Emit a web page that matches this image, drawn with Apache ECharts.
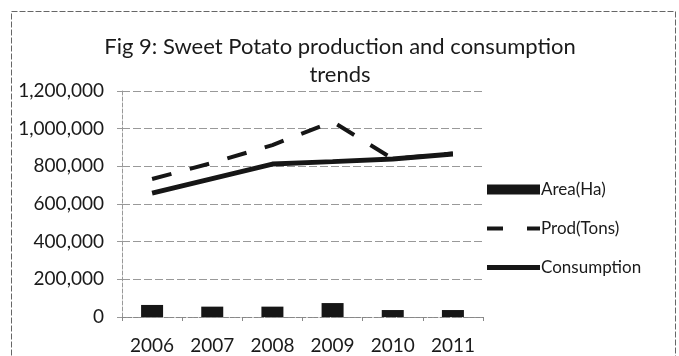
<!DOCTYPE html>
<html>
<head>
<meta charset="utf-8">
<script src="https://cdn.jsdelivr.net/npm/echarts@6/dist/echarts.min.js"></script>
<style>
  html, body { margin: 0; padding: 0; background: #fff; }
  #chart { width: 679px; height: 356px; }
</style>
</head>
<body>
<div id="chart"></div>
<script>
// Sweet potato area, production and consumption, 2006–2011
const years = ['2006', '2007', '2008', '2009', '2010', '2011'];
const areaHa = [64000, 55000, 55000, 74000, 37000, 37000];
const prodTons = [733000, 818000, 913000, 1037000, 840000, 868000];
const consumption = [658000, 735000, 812000, 825000, 839000, 865000];
const yTicks = [0, 200000, 400000, 600000, 800000, 1000000, 1200000];

const FONT = 'Lato, "Open Sans", sans-serif';
const INK = '#161616';

// legend glyphs: the corner moves pin the box so strokes keep their true thickness
const BOX = 'M0,0L0,0ZM53,14L53,14Z';
const ICON_AREA = 'path://' + BOX + 'M0,2H53V12H0Z';
const ICON_PROD = 'path://' + BOX + 'M0,5H16V9H0ZM40,5H53V9H40Z';
const ICON_CONS = 'path://' + BOX + 'M0,4.5H53V9.5H0Z';

const chart = echarts.init(document.getElementById('chart'));
chart.setOption({
  backgroundColor: '#fff',
  animation: false,
  title: {
    text: 'Fig 9: Sweet Potato production and consumption\ntrends',
    left: 335, top: 28, textAlign: 'center',
    textStyle: { fontFamily: FONT, fontSize: 22, fontWeight: 'normal', color: '#1a1a1a', lineHeight: 28 }
  },
  graphic: [{
    type: 'rect', shape: { x: 11.5, y: 11.5, width: 664, height: 360 },
    style: { fill: 'none', stroke: '#666', lineWidth: 1, lineDash: [6, 2] }, silent: true, z: 0
  }],
  legend: {
    orient: 'vertical', left: 482, top: 176, itemGap: 22,
    itemWidth: 53, itemHeight: 14,
    textStyle: { fontFamily: FONT, fontSize: 17, color: '#1a1a1a', padding: [0, 0, 0, -4] },
    data: [
      { name: 'Area(Ha)', icon: ICON_AREA },
      { name: 'Prod(Tons)', icon: ICON_PROD },
      { name: 'Consumption', icon: ICON_CONS }
    ]
  },
  grid: { left: 122, top: 91, width: 361, height: 226 },
  xAxis: {
    type: 'category', data: years, boundaryGap: true,
    axisLine: { lineStyle: { color: '#888', type: 'dashed', width: 1 } },
    axisTick: { show: true, length: 4, lineStyle: { color: '#888' } },
    axisLabel: { fontFamily: FONT, fontSize: 19, color: '#1a1a1a', margin: 19 }
  },
  yAxis: {
    type: 'value', min: 0, max: 1200000, interval: 200000,
    axisLine: { show: true, lineStyle: { color: '#999', type: 'dashed', width: 1 } },
    axisTick: { show: true, length: 5, lineStyle: { color: '#999' } },
    splitLine: { lineStyle: { color: '#999', type: [8, 3], width: 1 } },
    axisLabel: {
      fontFamily: FONT, fontSize: 19, color: '#1a1a1a', margin: 18,
      formatter: v => yTicks.includes(v) ? v.toLocaleString('en-US') : ''
    }
  },
  series: [
    {
      name: 'Area(Ha)', type: 'bar', data: areaHa, barWidth: 22,
      itemStyle: { color: INK }
    },
    {
      name: 'Prod(Tons)', type: 'line', data: prodTons, symbol: 'none',
      lineStyle: { color: INK, width: 4, type: [20, 19] },
      itemStyle: { color: INK }
    },
    {
      name: 'Consumption', type: 'line', data: consumption, symbol: 'none',
      lineStyle: { color: INK, width: 5 },
      itemStyle: { color: INK }
    }
  ]
});
</script>
</body>
</html>
